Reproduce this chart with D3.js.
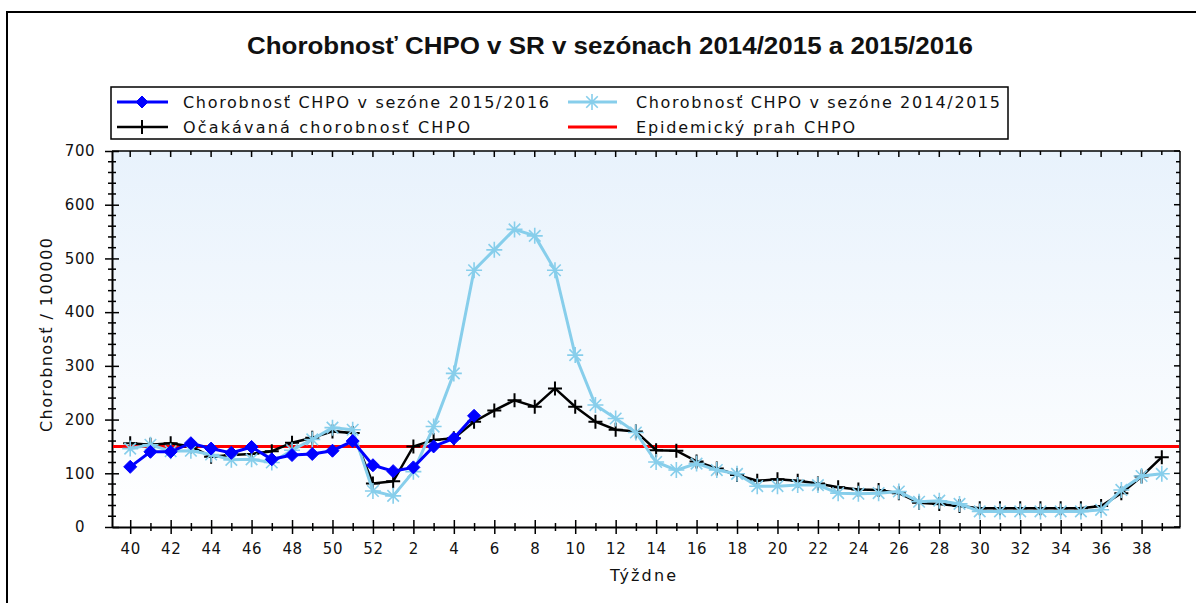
<!DOCTYPE html>
<html><head><meta charset="utf-8">
<script src="https://cdn.jsdelivr.net/npm/d3@7"></script>
<style>
html,body{margin:0;padding:0;background:#fff;}
svg{display:block;}
</style></head>
<body>
<svg id="chart" width="1196" height="603"></svg>
<script>
// ---- data ----
const weeks = [40,41,42,43,44,45,46,47,48,49,50,51,52,1,2,3,4,5,6,7,8,9,10,11,12,13,14,15,16,17,18,19,20,21,22,23,24,25,26,27,28,29,30,31,32,33,34,35,36,37,38,39];
const season1516 = [112,140,140,156,146,138,149,126,134,136,142,160,115,104,111,150,165,207];
const season1415 = [146,153,141,142,135,125,126,120,143,163,185,181,67,58,103,187,286,478,516,554,542,478,320,227,202,176,121,106,118,106,99,76,76,78,78,63,62,63,66,47,49,43,29,29,29,29,29,29,32,69,95,99];
const expected = [156,153,156,150,131,134,136,141,157,166,178,175,81,85,150,162,165,196,217,236,224,258,224,196,181,178,143,142,122,109,97,86,89,86,81,74,70,69,63,45,43,39,35,35,35,35,35,35,39,63,94,130];
const threshold = 150;
const yTicks = [0,100,200,300,400,500,600,700];
const title = "Chorobnosť CHPO v SR v sezónach 2014/2015 a 2015/2016";
const yLabel = "Chorobnosť / 100000";
const xLabel = "Týždne";
const legendLabels = ["Chorobnosť CHPO v sezóne 2015/2016","Chorobnosť CHPO v sezóne 2014/2015","Očakávaná chorobnosť CHPO","Epidemický prah CHPO"];

const svg = d3.select("#chart");
const L = 112, R = 1180, T = 151, B = 527;
const x = d3.scaleLinear().domain([-0.9, 51.9]).range([L, R]);
const y = d3.scaleLinear().domain([0, 700]).range([B, T]);
const idx = weeks.map((w,i)=>i);

// outer frame
svg.append("rect").attr("x",7).attr("y",12).attr("width",1200).attr("height",600)
  .attr("fill","none").attr("stroke","#000").attr("stroke-width",2);

// title
svg.append("text").attr("x",610).attr("y",54).attr("text-anchor","middle")
  .attr("font-family","Liberation Sans, Arial, sans-serif").attr("font-weight","bold")
  .attr("font-size",24).attr("fill","#111")
  .attr("textLength",726).attr("lengthAdjust","spacingAndGlyphs").text(title);

// background gradient
const defs = svg.append("defs");
const g = defs.append("linearGradient").attr("id","bg").attr("x1",0).attr("y1",0).attr("x2",0).attr("y2",1);
g.append("stop").attr("offset","0%").attr("stop-color","#e8f2fc");
g.append("stop").attr("offset","100%").attr("stop-color","#ffffff");
svg.append("rect").attr("x",L).attr("y",T).attr("width",R-L).attr("height",B-T).attr("fill","url(#bg)");

// top & right border with inward ticks
svg.append("line").attr("x1",L).attr("x2",R).attr("y1",T).attr("y2",T).attr("stroke","#000").attr("stroke-width",1.5);
svg.append("line").attr("x1",R).attr("x2",R).attr("y1",T).attr("y2",B).attr("stroke","#000").attr("stroke-width",1.5);
svg.append("g").selectAll("line").data(idx).join("line")
  .attr("x1",d=>x(d)).attr("x2",d=>x(d)).attr("y1",T).attr("y2",d=>T+(weeks[d]%2===0?6:4))
  .attr("stroke","#000").attr("stroke-width",1.5);
const yMinor = d3.range(0,701,20);
svg.append("g").selectAll("line").data(yMinor).join("line")
  .attr("x1",R).attr("x2",d=>R-(d%100===0?6:4)).attr("y1",d=>y(d)).attr("y2",d=>y(d))
  .attr("stroke","#000").attr("stroke-width",1.5);

// x axis
const xAxis = d3.axisBottom(x).tickValues(idx).tickSize(0).tickPadding(16)
  .tickFormat(i => weeks[i]%2===0 ? String(weeks[i]) : "");
const gx = svg.append("g").attr("transform",`translate(0,${B})`).call(xAxis);
gx.select(".domain").attr("stroke","#000").attr("stroke-width",2);
gx.selectAll(".tick text").attr("font-family","DejaVu Sans, sans-serif").attr("font-size",15)
  .attr("letter-spacing",0.6).attr("fill","#111");
gx.selectAll(".tick").append("line")
  .attr("y1",i=>weeks[i]%2===0?-7:-4).attr("y2",i=>weeks[i]%2===0?7:4)
  .attr("stroke","#000").attr("stroke-width",1.5);

// y axis
const yAxis = d3.axisLeft(y).tickValues(yTicks).tickSize(0).tickPadding(0).tickFormat(d3.format("d"));
const gy = svg.append("g").attr("transform",`translate(${L},0)`).call(yAxis);
gy.select(".domain").attr("stroke","#000").attr("stroke-width",2);
gy.selectAll(".tick text").attr("x",80-L).attr("text-anchor","middle")
  .attr("font-family","DejaVu Sans, sans-serif").attr("font-size",15).attr("letter-spacing",0.6).attr("fill","#111");
gy.selectAll(".tick").append("line").attr("x1",-7).attr("x2",7).attr("stroke","#000").attr("stroke-width",1.5);
gy.append("g").selectAll("line").data(yMinor.filter(d=>d%100!==0)).join("line")
  .attr("x1",-4).attr("x2",4).attr("y1",d=>y(d)).attr("y2",d=>y(d)).attr("stroke","#000").attr("stroke-width",1.5);

// axis titles
svg.append("text").attr("transform",`translate(52,335) rotate(-90)`).attr("text-anchor","middle")
  .attr("font-family","DejaVu Sans, sans-serif").attr("font-size",16).attr("fill","#111")
  .attr("textLength",194).attr("lengthAdjust","spacing").text(yLabel);
svg.append("text").attr("x",643).attr("y",581).attr("text-anchor","middle")
  .attr("font-family","DejaVu Sans, sans-serif").attr("font-size",16).attr("fill","#111")
  .attr("textLength",66).attr("lengthAdjust","spacing").text(xLabel);

// threshold
svg.append("line").attr("x1",L+1).attr("x2",R-1).attr("y1",y(threshold)).attr("y2",y(threshold))
  .attr("stroke","#ff0000").attr("stroke-width",3);

const line = d3.line().x((d,i)=>x(i)).y(d=>y(d));

// markers
function plus(sel, cx, cy, s){
  sel.append("path").attr("d",`M${cx-s},${cy}H${cx+s}M${cx},${cy-s}V${cy+s}`)
    .attr("stroke","#000").attr("stroke-width",2).attr("fill","none");
}
function aster(sel, cx, cy, s){
  const d = s*0.72;
  sel.append("path").attr("d",`M${cx-s},${cy}H${cx+s}M${cx},${cy-s}V${cy+s}M${cx-d},${cy-d}L${cx+d},${cy+d}M${cx-d},${cy+d}L${cx+d},${cy-d}`)
    .attr("stroke","#87ceeb").attr("stroke-width",1.6).attr("fill","none");
}
function diamond(sel, cx, cy, s){
  sel.append("path").attr("d",`M${cx},${cy-s}L${cx+s},${cy}L${cx},${cy+s}L${cx-s},${cy}Z`)
    .attr("fill","#0000ff").attr("stroke","#0000ff").attr("stroke-width",1);
}

// expected (black)
svg.append("path").datum(expected).attr("d",line).attr("fill","none").attr("stroke","#000").attr("stroke-width",2.5);
const gExp = svg.append("g");
expected.forEach((v,i)=>plus(gExp, x(i), y(v), 7));

// 2014/2015 (light blue)
svg.append("path").datum(season1415).attr("d",line).attr("fill","none").attr("stroke","#87ceeb").attr("stroke-width",3);
const gLb = svg.append("g");
season1415.forEach((v,i)=>aster(gLb, x(i), y(v), 8));

// 2015/2016 (blue)
svg.append("path").datum(season1516).attr("d",line).attr("fill","none").attr("stroke","#0000ff").attr("stroke-width",3);
const gB = svg.append("g");
season1516.forEach((v,i)=>diamond(gB, x(i), y(v), 6.5));

// legend
const lg = svg.append("g");
lg.append("rect").attr("x",111).attr("y",87).attr("width",897).attr("height",52)
  .attr("fill","#fff").attr("stroke","#000").attr("stroke-width",1.5);
const rows = [102, 127];
lg.append("line").attr("x1",117).attr("x2",168).attr("y1",rows[0]).attr("y2",rows[0]).attr("stroke","#0000ff").attr("stroke-width",3);
diamond(lg, 142, rows[0], 6);
lg.append("line").attr("x1",568).attr("x2",617).attr("y1",rows[0]).attr("y2",rows[0]).attr("stroke","#87ceeb").attr("stroke-width",3);
aster(lg, 592, rows[0], 8);
lg.append("line").attr("x1",117).attr("x2",168).attr("y1",rows[1]).attr("y2",rows[1]).attr("stroke","#000").attr("stroke-width",2.5);
plus(lg, 142, rows[1], 7);
lg.append("line").attr("x1",568).attr("x2",617).attr("y1",rows[1]).attr("y2",rows[1]).attr("stroke","#ff0000").attr("stroke-width",3);

const legendPos = [[183,rows[0],366],[636,rows[0],364],[183,rows[1],287],[636,rows[1],219]];
legendLabels.forEach((t,i)=>{
  lg.append("text").attr("x",legendPos[i][0]).attr("y",legendPos[i][1]+5.5)
    .attr("font-family","DejaVu Sans, sans-serif").attr("font-size",16).attr("fill","#111")
    .attr("textLength",legendPos[i][2]).attr("lengthAdjust","spacing").text(t);
});
</script>
</body></html>
